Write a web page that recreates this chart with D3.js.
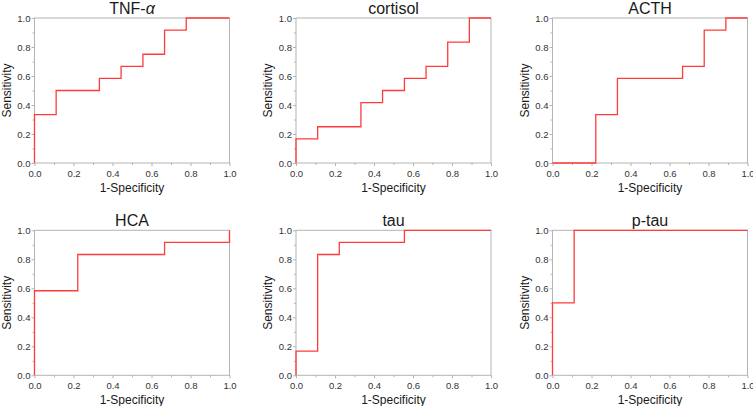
<!DOCTYPE html>
<html><head><meta charset="utf-8">
<script src="https://cdn.jsdelivr.net/npm/d3@7"></script>
<style>
html,body{margin:0;padding:0;background:#fff;}
svg{display:block;font-family:"Liberation Sans",Arial,sans-serif;}
</style></head>
<body>
<svg id="chart" width="753" height="406"></svg>
<script>
// ---- data ----
const titles = ["TNF-α", "cortisol", "ACTH", "HCA", "tau", "p-tau"];
const tnfFpr = [0, 0, 0.111, 0.111, 0.333, 0.333, 0.444, 0.444, 0.556, 0.556, 0.667, 0.667, 0.778, 0.778, 1];
const tnfTpr = [0, 0.333, 0.333, 0.5, 0.5, 0.583, 0.583, 0.667, 0.667, 0.75, 0.75, 0.917, 0.917, 1, 1];
const cortisolFpr = [0, 0, 0.111, 0.111, 0.333, 0.333, 0.444, 0.444, 0.556, 0.556, 0.667, 0.667, 0.778, 0.778, 0.889, 0.889, 1];
const cortisolTpr = [0, 0.167, 0.167, 0.25, 0.25, 0.417, 0.417, 0.5, 0.5, 0.583, 0.583, 0.667, 0.667, 0.833, 0.833, 1, 1];
const acthFpr = [0, 0.222, 0.222, 0.333, 0.333, 0.667, 0.667, 0.778, 0.778, 0.889, 0.889, 1];
const acthTpr = [0, 0, 0.333, 0.333, 0.583, 0.583, 0.667, 0.667, 0.917, 0.917, 1, 1];
const hcaFpr = [0, 0, 0.222, 0.222, 0.667, 0.667, 1, 1];
const hcaTpr = [0, 0.583, 0.583, 0.833, 0.833, 0.917, 0.917, 1];
const tauFpr = [0, 0, 0.111, 0.111, 0.222, 0.222, 0.556, 0.556, 1];
const tauTpr = [0, 0.167, 0.167, 0.833, 0.833, 0.917, 0.917, 1, 1];
const ptauFpr = [0, 0, 0.111, 0.111, 1];
const ptauTpr = [0, 0.5, 0.5, 1, 1];
const majorTicks = [0, 0.2, 0.4, 0.6, 0.8, 1.0];
const minorTicks = [0.1, 0.3, 0.5, 0.7, 0.9];
const xLabel = "1-Specificity";
const yLabel = "Sensitivity";

const series = [
  [tnfFpr, tnfTpr], [cortisolFpr, cortisolTpr], [acthFpr, acthTpr],
  [hcaFpr, hcaTpr], [tauFpr, tauTpr], [ptauFpr, ptauTpr]
];

// ---- layout ----
const lefts = [34.5, 296, 552.5];
const tops = [18, 230.3];
const W = 195, H = 145;
const svg = d3.select("#chart");
const frameColor = "#b4b4b4";
const textColor = "#333";

series.forEach((s, i) => {
  const col = i % 3, row = Math.floor(i / 3);
  const x0 = lefts[col], y0 = tops[row];
  const g = svg.append("g").attr("transform", `translate(${x0},${y0})`);
  const x = d3.scaleLinear().domain([0, 1]).range([0, W]);
  const y = d3.scaleLinear().domain([0, 1]).range([H, 0]);

  // frame
  g.append("rect").attr("x", 0).attr("y", 0).attr("width", W).attr("height", H)
    .attr("fill", "none").attr("stroke", frameColor).attr("stroke-width", 1);

  // minor ticks
  g.append("g").attr("transform", `translate(0,${H})`)
    .call(d3.axisBottom(x).tickValues(minorTicks).tickSize(2).tickFormat(""))
    .call(a => a.select(".domain").remove())
    .call(a => a.selectAll("line").attr("stroke", frameColor));
  g.append("g")
    .call(d3.axisLeft(y).tickValues(minorTicks).tickSize(2).tickFormat(""))
    .call(a => a.select(".domain").remove())
    .call(a => a.selectAll("line").attr("stroke", frameColor));

  // major ticks + labels
  const xa = g.append("g").attr("transform", `translate(0,${H})`)
    .call(d3.axisBottom(x).tickValues(majorTicks).tickSize(3).tickPadding(4).tickFormat(d3.format(".1f")));
  xa.select(".domain").remove();
  xa.selectAll("line").attr("stroke", frameColor);
  xa.selectAll("text").attr("fill", textColor).style("font-size", "9.5px")
    .style("font-family", '"Liberation Sans",Arial,sans-serif');
  const ya = g.append("g")
    .call(d3.axisLeft(y).tickValues(majorTicks).tickSize(3).tickPadding(1).tickFormat(d3.format(".1f")));
  ya.select(".domain").remove();
  ya.selectAll("line").attr("stroke", frameColor);
  ya.selectAll("text").attr("fill", textColor).style("font-size", "9.5px")
    .style("font-family", '"Liberation Sans",Arial,sans-serif');

  // ROC curve
  const pts = s[0].map((v, k) => [v, s[1][k]]);
  g.append("path").datum(pts)
    .attr("d", d3.line().x(d => x(d[0])).y(d => y(d[1])))
    .attr("fill", "none").attr("stroke", "#ff3b3b").attr("stroke-width", 1.3);

  // title
  const t = g.append("text").attr("x", W / 2).attr("y", -4.5).attr("text-anchor", "middle")
    .attr("fill", "#1a1a1a").style("font-size", "16px");
  if (titles[i].indexOf("α") >= 0) {
    const parts = titles[i].split("α");
    t.append("tspan").text(parts[0]);
    t.append("tspan").style("font-style", "italic").text("α");
  } else {
    t.text(titles[i]);
  }

  // axis titles
  g.append("text").attr("x", W / 2).attr("y", H + 28.5).attr("text-anchor", "middle")
    .attr("fill", "#1a1a1a").style("font-size", "12px").text(xLabel);
  g.append("text").attr("transform", `translate(-24,${H / 2}) rotate(-90)`)
    .attr("text-anchor", "middle").attr("fill", "#1a1a1a").style("font-size", "12px").text(yLabel);
});
</script>
</body></html>
